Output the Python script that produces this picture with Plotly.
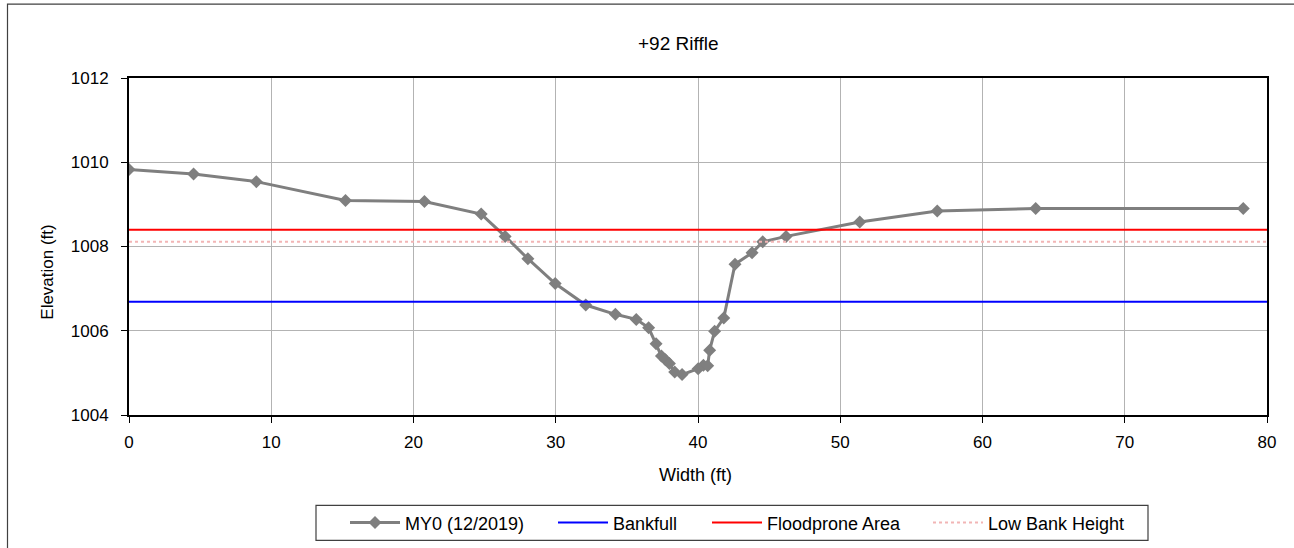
import plotly.graph_objects as go

# ---- data ----
width_ft = [0, 4.54, 8.95, 15.22, 20.77, 24.76, 26.44, 28.04, 29.96, 32.11, 34.19,
            35.66, 36.53, 37.05, 37.43, 37.71, 37.99, 38.36, 38.88, 40.01, 40.38,
            40.68, 40.82, 41.17, 41.81, 42.6, 43.8, 44.55, 46.19, 51.37, 56.82,
            63.74, 78.33]
elev_ft = [1009.83, 1009.72, 1009.54, 1009.09, 1009.07, 1008.77, 1008.24, 1007.71,
           1007.12, 1006.61, 1006.39, 1006.27, 1006.07, 1005.69, 1005.40, 1005.31,
           1005.22, 1005.02, 1004.96, 1005.10, 1005.18, 1005.17, 1005.54, 1005.99,
           1006.30, 1007.58, 1007.85, 1008.11, 1008.24, 1008.58, 1008.84, 1008.90,
           1008.90]
line_x = [0, 80]
bankfull_elev = 1006.69
floodprone_elev = 1008.40
low_bank_elev = 1008.11
x_ticks = [0, 10, 20, 30, 40, 50, 60, 70, 80]
y_ticks = [1004, 1006, 1008, 1010, 1012]

FONT = "Liberation Sans, Arial, sans-serif"

fig = go.Figure()
fig.add_trace(go.Scatter(
    x=width_ft, y=elev_ft, name="MY0 (12/2019)", mode="lines+markers",
    line=dict(color="#7f7f7f", width=3),
    marker=dict(symbol="diamond", size=10, color="#7f7f7f"),
    legend="legend",
))
fig.add_trace(go.Scatter(
    x=line_x, y=[bankfull_elev] * len(line_x), name="Bankfull", mode="lines",
    line=dict(color="#0000ff", width=2), legend="legend2",
))
fig.add_trace(go.Scatter(
    x=line_x, y=[floodprone_elev] * len(line_x), name="Floodprone Area", mode="lines",
    line=dict(color="#ff0000", width=2), legend="legend3",
))
fig.add_trace(go.Scatter(
    x=line_x, y=[low_bank_elev] * len(line_x), name="Low Bank Height", mode="lines",
    line=dict(color="#f2b5b5", width=2, dash="dot"), legend="legend4",
))

W, H = 1294, 548
L, R, T, B = 129, 27, 78, 132.5
pw = W - L - R
ph = H - T - B


def px_x(p):
    return (p - L) / pw


def px_y(p):
    return (H - B - p) / ph


def leg(start_px):
    return dict(
        orientation="h", x=px_x(start_px - 5), xanchor="left",
        y=px_y(523.5), yanchor="middle",
        borderwidth=0, bgcolor="rgba(0,0,0,0)",
        font=dict(family=FONT, size=18, color="black"),
        itemwidth=50,
    )


fig.update_layout(
    width=W, height=H,
    margin=dict(l=L, r=R, t=T, b=B, pad=0, autoexpand=False),
    paper_bgcolor="white", plot_bgcolor="white",
    font=dict(family=FONT, size=17, color="black"),
    showlegend=True,
    legend=leg(350),
    legend2=leg(558),
    legend3=leg(712),
    legend4=leg(933),
    xaxis=dict(
        range=[0, 80], tickvals=x_ticks, showgrid=True, gridcolor="#b3b3b3", gridwidth=1,
        zeroline=False, showline=True, linecolor="black", linewidth=2, mirror=True,
        ticks="outside", ticklen=6, tickcolor="black", tickwidth=1,
        tickfont=dict(family=FONT, size=17), ticklabelstandoff=5,
    ),
    yaxis=dict(
        range=[1004, 1012], tickvals=y_ticks, showgrid=True, gridcolor="#b3b3b3", gridwidth=1,
        zeroline=False, showline=True, linecolor="black", linewidth=2, mirror=True,
        ticks="outside", ticklen=6, tickcolor="black", tickwidth=1,
        tickfont=dict(family=FONT, size=17), ticklabelstandoff=9,
    ),
    annotations=[
        dict(text="+92 Riffle", x=px_x(678), y=px_y(43), xref="paper", yref="paper",
             xanchor="center", yanchor="middle", showarrow=False,
             font=dict(family=FONT, size=19, color="black")),
        dict(text="Width (ft)", x=px_x(695), y=px_y(476), xref="paper", yref="paper",
             xanchor="center", yanchor="middle", showarrow=False,
             font=dict(family=FONT, size=18, color="black")),
        dict(text="Elevation (ft)", x=px_x(48), y=px_y(273), xref="paper", yref="paper",
             xanchor="center", yanchor="middle", showarrow=False, textangle=-90,
             font=dict(family=FONT, size=17, color="black")),
    ],
    shapes=[
        dict(type="rect", xref="paper", yref="paper",
             x0=px_x(7.5), x1=px_x(1310), y0=px_y(600), y1=px_y(4),
             line=dict(color="#404040", width=1.2), fillcolor="rgba(0,0,0,0)", layer="below"),
        dict(type="rect", xref="paper", yref="paper",
             x0=px_x(316), x1=px_x(1148), y0=px_y(541), y1=px_y(506),
             line=dict(color="#404040", width=1.2), fillcolor="rgba(0,0,0,0)", layer="below"),
    ],
)

fig.write_html("out.html", config={"displayModeBar": False},
               post_script="document.body.style.margin='0';")
